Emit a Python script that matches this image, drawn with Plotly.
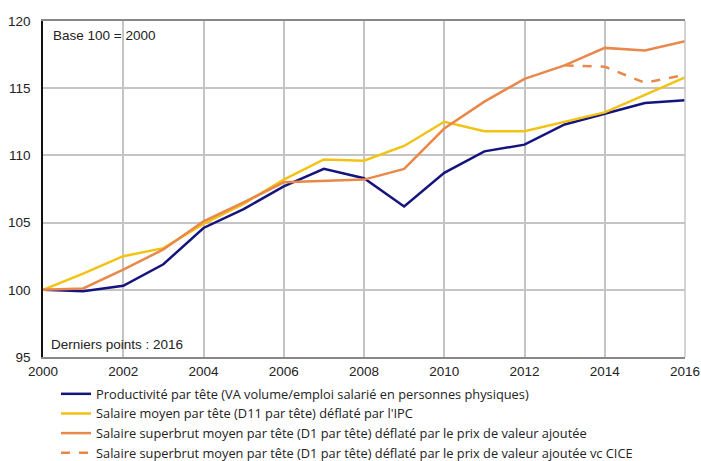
import plotly.graph_objects as go

years = list(range(2000, 2017))

productivite = [100.0, 99.9, 100.3, 101.9, 104.6, 106.0, 107.7, 109.0, 108.3, 106.2,
                108.7, 110.3, 110.8, 112.3, 113.1, 113.9, 114.1]
salaire_ipc = [100.0, 101.2, 102.5, 103.1, 104.9, 106.4, 108.2, 109.7, 109.6, 110.7,
               112.5, 111.8, 111.8, 112.5, 113.2, 114.5, 115.8]
superbrut_va = [100.0, 100.1, 101.5, 103.0, 105.1, 106.5, 108.0, 108.1, 108.2, 109.0,
                112.0, 114.0, 115.7, 116.7, 118.0, 117.8, 118.5]
# variante avec CICE : identique jusqu'en 2013
cice_years = [2013, 2014, 2015, 2016]
superbrut_cice = [116.7, 116.6, 115.4, 116.0]

names = [
    "Productivité par tête (VA volume/emploi salarié en personnes physiques)",
    "Salaire moyen par tête (D11 par tête) déflaté par l'IPC",
    "Salaire superbrut moyen par tête (D1 par tête) déflaté par le prix de valeur ajoutée",
    "Salaire superbrut moyen par tête (D1 par tête) déflaté par le prix de valeur ajoutée vc CICE",
]

navy = "#15147f"
yellow = "#f2c314"
orange = "#e9884a"

fig = go.Figure()
fig.add_trace(go.Scatter(x=years, y=productivite, mode="lines", name=names[0],
                         line=dict(color=navy, width=2.5)))
fig.add_trace(go.Scatter(x=years, y=salaire_ipc, mode="lines", name=names[1],
                         line=dict(color=yellow, width=2.5)))
fig.add_trace(go.Scatter(x=years, y=superbrut_va, mode="lines", name=names[2],
                         line=dict(color=orange, width=2.5)))
fig.add_trace(go.Scatter(x=cice_years, y=superbrut_cice, mode="lines", name=names[3],
                         line=dict(color=orange, width=2.5, dash="dash")))

fig.add_annotation(x=0.012, y=0.985, xref="paper", yref="paper", xanchor="left",
                   yanchor="top", text="Base 100 = 2000", showarrow=False,
                   font=dict(size=13.5, color="#222"))
fig.add_annotation(x=0.01, y=0.01, xref="paper", yref="paper", xanchor="left",
                   yanchor="bottom", text="Derniers points : 2016", showarrow=False,
                   font=dict(size=13.5, color="#222"))

W, H = 701, 461
fig.update_layout(
    width=W, height=H,
    margin=dict(l=43, r=16, t=21, b=104, autoexpand=False),
    paper_bgcolor="white", plot_bgcolor="white",
    font=dict(family="Liberation Sans, Arial, sans-serif", size=13.5, color="#222"),
    showlegend=True,
    legend=dict(x=56 / W, y=1 - 379 / H, xref="container", yref="container",
                xanchor="left", yanchor="top",
                bgcolor="rgba(0,0,0,0)", itemwidth=30, tracegroupgap=0,
                font=dict(family="Open Sans, sans-serif", size=12.8)),
)
fig.update_xaxes(range=[2000, 2016], tickmode="array", tickvals=list(range(2000, 2017, 2)),
                 showgrid=True, gridcolor="#c4c4c4", gridwidth=1.5,
                 showline=True, linecolor="#888", linewidth=1.5, mirror=True,
                 ticks="", zeroline=False, automargin=False, ticklabelstandoff=1)
fig.update_yaxes(range=[95, 120], tickvals=[95, 100, 105, 110, 115, 120],
                 showgrid=True, gridcolor="#c4c4c4", gridwidth=1.5,
                 showline=True, linecolor="#111", linewidth=1.5,
                 ticks="", zeroline=False, automargin=False, ticklabelstandoff=8)
fig.add_shape(type="line", xref="paper", yref="paper", x0=1, x1=1, y0=0, y1=1,
              line=dict(color="#c4c4c4", width=1.5))

# drop the default body margin so the figure fills the window exactly
fig.write_html("out.html", config={"displayModeBar": False},
               post_script="document.body.style.margin='0';"
                           "document.body.style.overflow='hidden';")
